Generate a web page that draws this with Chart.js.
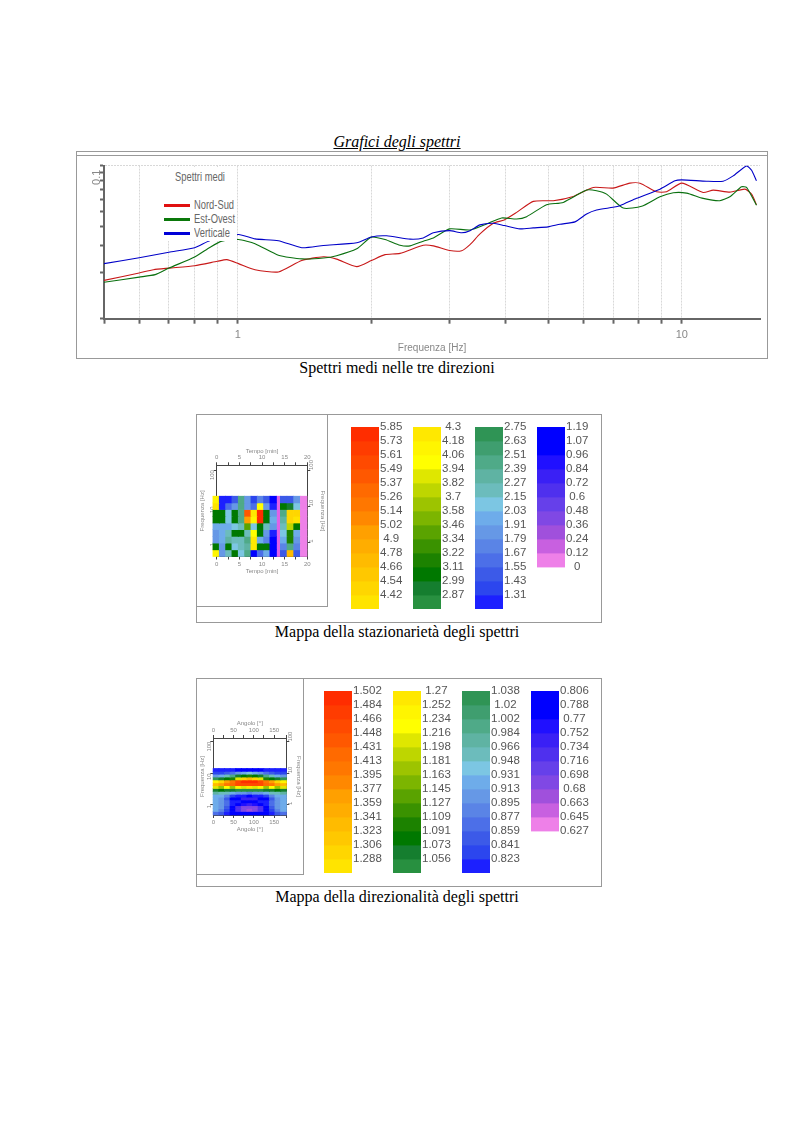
<!DOCTYPE html>
<html>
<head>
<meta charset="utf-8">
<title>Spettri</title>
<script src="https://cdn.jsdelivr.net/npm/chart.js@4/dist/chart.umd.min.js"></script>
<style>
body { margin: 0; background: #fff; }
#page { position: relative; width: 794px; height: 1123px; overflow: hidden; }
#page canvas, .box, .cap, .lg { position: absolute; }
.box { border: 1px solid #999; box-sizing: border-box; }
.cap { left: 0; width: 794px; text-align: center; font: 16px "Liberation Serif", serif; color: #000; }
.lg { font: 12px "Liberation Sans", sans-serif; color: #666; white-space: nowrap; transform: scaleX(0.78); transform-origin: left top; }
.key { position: absolute; left: 164px; width: 26px; height: 3px; }
.small { filter: blur(0.35px); }
</style>
</head>
<body>
<div id="page">
  <div class="cap" style="top:133px;font-style:italic;text-decoration:underline">Grafici degli spettri</div>
  <div class="box" style="left:76px;top:151px;width:692px;height:208px"></div>
  <div class="box" style="left:76px;top:151px;width:692px;height:5px;border-width:0 0 1px 0"></div>
  <canvas id="mainChart" width="692" height="202" style="left:76px;top:156px"></canvas>
  <div style="position:absolute;left:141px;top:167px;width:96px;height:74px;background:#fff"></div>
  <div class="lg" style="left:175px;top:170px">Spettri medi</div>
  <div class="key" style="top:204px;background:#e01010"></div>
  <div class="lg" style="left:194px;top:198px">Nord-Sud</div>
  <div class="key" style="top:218px;background:#0a780a"></div>
  <div class="lg" style="left:194px;top:212px">Est-Ovest</div>
  <div class="key" style="top:232px;background:#0000d8"></div>
  <div class="lg" style="left:194px;top:226px">Verticale</div>
  <div class="cap" style="top:359px">Spettri medi nelle tre direzioni</div>

  <div class="box" style="left:196px;top:414px;width:406px;height:209px"></div>
  <div class="box" style="left:196px;top:414px;width:132px;height:193px"></div>
  <canvas id="timeMap" class="small" width="129" height="190" style="left:197px;top:415px"></canvas>
  <div class="cap" style="top:623px">Mappa della stazionarietà degli spettri</div>

  <div class="box" style="left:196px;top:678px;width:406px;height:209px"></div>
  <div class="box" style="left:196px;top:678px;width:108px;height:197px"></div>
  <canvas id="angleMap" class="small" width="105" height="194" style="left:197px;top:679px"></canvas>
  <div class="cap" style="top:888px">Mappa della direzionalità degli spettri</div>
</div>

<script>
// mean spectra
const nsFreq = [0.5, 0.6, 0.646, 0.7, 0.8, 0.9, 0.945, 1.004, 1.094, 1.235, 1.394, 1.56, 1.67, 1.854, 2.0, 2.147, 2.32, 2.618, 2.758, 3.0, 3.194, 3.335, 3.512, 3.763, 3.983, 4.247, 4.63, 5.135, 5.697, 6.319, 7.0, 7.64, 8.05, 8.77, 9.24, 10, 11.17, 11.77, 12.83, 13.87, 14.36, 14.73];
const nsAmp = [0.0178, 0.0199, 0.0209, 0.0214, 0.0222, 0.0237, 0.0243, 0.0229, 0.0209, 0.0202, 0.024, 0.0254, 0.0245, 0.0219, 0.024, 0.0262, 0.0267, 0.0302, 0.0299, 0.0279, 0.0278, 0.0305, 0.0358, 0.042, 0.0442, 0.0495, 0.0584, 0.059, 0.0629, 0.072, 0.0713, 0.0768, 0.0768, 0.0675, 0.0675, 0.0768, 0.0668, 0.0692, 0.0671, 0.0702, 0.0651, 0.0555];
const eoFreq = [0.5, 0.6, 0.652, 0.7, 0.8, 0.867, 0.921, 1.004, 1.094, 1.235, 1.394, 1.56, 1.67, 1.854, 2.0, 2.147, 2.32, 2.444, 2.618, 2.758, 3.0, 3.335, 3.636, 3.929, 4.247, 4.473, 4.961, 5.409, 6.105, 6.429, 6.771, 7.381, 8.12, 8.93, 9.57, 10.25, 11.17, 12.18, 12.83, 13.63, 13.99, 14.73];
const eoAmp = [0.0173, 0.0187, 0.0194, 0.0214, 0.0253, 0.0293, 0.0321, 0.0329, 0.0309, 0.026, 0.0246, 0.0249, 0.0258, 0.0286, 0.0341, 0.0329, 0.0302, 0.0299, 0.0321, 0.0337, 0.0386, 0.038, 0.0416, 0.0455, 0.0448, 0.0464, 0.0555, 0.0575, 0.0692, 0.0685, 0.0651, 0.0528, 0.0542, 0.0626, 0.0665, 0.0661, 0.0611, 0.059, 0.0626, 0.0727, 0.072, 0.055];
const vertFreq = [0.5, 0.6, 0.7, 0.8, 0.867, 1.004, 1.094, 1.235, 1.394, 1.56, 1.854, 2.0, 2.165, 2.444, 2.618, 2.758, 3.0, 3.194, 3.335, 3.512, 3.763, 3.983, 4.321, 4.63, 5.0, 5.316, 5.746, 6.105, 6.429, 7.0, 7.255, 7.91, 8.93, 9.65, 10, 11.37, 12.39, 13.05, 13.99, 14.36, 14.73];
const vertAmp = [0.0229, 0.025, 0.0272, 0.0291, 0.0324, 0.0355, 0.0332, 0.0323, 0.0291, 0.0301, 0.0313, 0.0342, 0.0348, 0.0331, 0.0337, 0.0364, 0.0376, 0.0364, 0.0376, 0.041, 0.042, 0.0406, 0.0386, 0.0392, 0.0398, 0.0414, 0.0429, 0.0483, 0.0513, 0.0534, 0.0547, 0.0611, 0.0702, 0.0795, 0.0807, 0.0791, 0.0791, 0.0857, 0.0995, 0.0932, 0.0795];
const freqTicks = [0.5, 0.6, 0.7, 0.8, 0.9, 1, 2, 3, 4, 5, 6, 7, 8, 9, 10];
const ampTicks = [0.01, 0.02, 0.03, 0.04, 0.05, 0.06, 0.07, 0.08, 0.09, 0.1];

// colour scale labels
const statCol1 = [5.85, 5.73, 5.61, 5.49, 5.37, 5.26, 5.14, 5.02, 4.9, 4.78, 4.66, 4.54, 4.42];
const statCol2 = [4.3, 4.18, 4.06, 3.94, 3.82, 3.7, 3.58, 3.46, 3.34, 3.22, 3.11, 2.99, 2.87];
const statCol3 = [2.75, 2.63, 2.51, 2.39, 2.27, 2.15, 2.03, 1.91, 1.79, 1.67, 1.55, 1.43, 1.31];
const statCol4 = [1.19, 1.07, 0.96, 0.84, 0.72, 0.6, 0.48, 0.36, 0.24, 0.12, 0];
const dirCol1 = [1.502, 1.484, 1.466, 1.448, 1.431, 1.413, 1.395, 1.377, 1.359, 1.341, 1.323, 1.306, 1.288];
const dirCol2 = [1.27, 1.252, 1.234, 1.216, 1.198, 1.181, 1.163, 1.145, 1.127, 1.109, 1.091, 1.073, 1.056];
const dirCol3 = [1.038, 1.02, 1.002, 0.984, 0.966, 0.948, 0.931, 0.913, 0.895, 0.877, 0.859, 0.841, 0.823];
const dirCol4 = [0.806, 0.788, 0.77, 0.752, 0.734, 0.716, 0.698, 0.68, 0.663, 0.645, 0.627];

const colours1 = ['#ff2d00', '#ff3c00', '#ff4a00', '#ff5800', '#ff6a00', '#ff7700', '#ff8800', '#ffa000', '#ffad00', '#ffbb00', '#ffc800', '#ffd600', '#ffe400'];
const colours2 = ['#ffe800', '#fff500', '#ffff00', '#dfe700', '#bed600', '#9dc400', '#7cb500', '#5aa300', '#3a9200', '#1c8200', '#007800', '#157e2f', '#289040'];
const colours3 = ['#2f9455', '#3f9e6f', '#4faa88', '#5fb3a3', '#6cbcbc', '#7cc6e3', '#6eacea', '#6698e6', '#5a84e6', '#4c6fe8', '#3c5ae8', '#2c46ee', '#1c20ff'];
const colours4 = ['#0000ff', '#0000ff', '#2010ff', '#3a20f5', '#4f30ee', '#6640ea', '#8048e4', '#a050dc', '#c860e0', '#ee80e8'];

// stationarity map: time columns, frequency row edges, values top row first
const timeCols = [-0.11, 1.29, 2.69, 4.08, 5.48, 6.88, 8.28, 9.67, 11.07, 12.47, 14.78, 16.25, 17.72, 19.2];
const timeGapCol = 13.6;
const timeRowEdges = [19.1, 12.5, 8.2, 5.35, 3.5, 2.3, 1.5, 0.98, 0.64, 0.42];
const timeRows = [
    [4.1, 1.2, 1.2, 1.5, 2.4, 1.8, 1.4, 1.7, 1.5, 1.1, 1.5, 1.5, 1.9, 0],
    [4.3, 1.3, 1.6, 1.9, 2.5, 1.9, 1.6, 4.0, 1.9, 1.3, 3.0, 2.9, 2.1, 0],
    [3.1, 3.1, 2.1, 3.1, 2.5, 5.4, 4.2, 5.8, 3.1, 1.9, 2.4, 4.5, 4.5, 0],
    [3.1, 3.0, 2.1, 3.1, 2.4, 4.9, 4.1, 5.8, 3.1, 2.0, 2.3, 4.5, 4.4, 0],
    [2.0, 2.0, 2.0, 2.1, 2.2, 3.4, 2.1, 3.0, 2.2, 1.8, 2.2, 3.7, 3.1, 0],
    [1.9, 2.0, 2.2, 3.0, 3.0, 2.2, 4.0, 3.1, 1.8, 1.2, 2.1, 3.2, 2.0, 0],
    [1.8, 2.0, 2.3, 2.2, 2.2, 2.4, 4.2, 2.0, 1.7, 1.1, 2.0, 3.2, 1.9, 0],
    [3.1, 1.9, 3.0, 2.1, 2.2, 2.3, 4.2, 3.1, 3.1, 1.0, 1.7, 2.4, 1.7, 0],
    [4.1, 1.8, 2.2, 3.0, 2.1, 2.4, 1.0, 1.6, 2.0, 1.0, 1.5, 4.7, 1.5, 0]
];

// directionality map
const angleCols = [6.9, 20.8, 34.6, 48.5, 62.3, 76.2, 90, 103.8, 117.7, 131.5, 145.4, 159.2, 173.1];
const angleRowEdges = [14.2, 11.5, 9.37, 7.61, 6.18, 5.02, 4.07, 3.31, 2.69, 2.18, 1.77, 1.44, 1.17, 0.949, 0.771, 0.626, 0.483];
const angleRows = [
    [0.82, 0.82, 0.81, 0.81, 0.80, 0.80, 0.80, 0.80, 0.80, 0.81, 0.81, 0.82, 0.82],
    [0.84, 0.84, 0.85, 0.87, 0.90, 0.93, 0.94, 0.93, 0.90, 0.87, 0.85, 0.84, 0.84],
    [0.90, 0.93, 0.96, 1.00, 1.06, 1.09, 1.10, 1.09, 1.06, 1.00, 0.96, 0.93, 0.90],
    [1.02, 1.06, 1.09, 1.10, 1.20, 1.30, 1.34, 1.30, 1.20, 1.10, 1.09, 1.06, 1.02],
    [1.25, 1.30, 1.36, 1.40, 1.46, 1.49, 1.50, 1.49, 1.46, 1.40, 1.36, 1.30, 1.25],
    [1.34, 1.36, 1.40, 1.43, 1.45, 1.46, 1.46, 1.46, 1.45, 1.43, 1.40, 1.36, 1.34],
    [1.20, 1.18, 1.22, 1.18, 1.24, 1.20, 1.26, 1.20, 1.24, 1.18, 1.22, 1.18, 1.20],
    [1.06, 1.08, 1.07, 1.06, 1.05, 1.05, 1.05, 1.05, 1.05, 1.06, 1.07, 1.08, 1.06],
    [0.97, 0.96, 0.95, 0.93, 0.90, 0.90, 0.89, 0.90, 0.90, 0.93, 0.95, 0.96, 0.97],
    [0.93, 0.92, 0.88, 0.84, 0.82, 0.81, 0.80, 0.81, 0.82, 0.84, 0.88, 0.92, 0.93],
    [0.92, 0.90, 0.85, 0.80, 0.77, 0.75, 0.74, 0.75, 0.77, 0.80, 0.85, 0.90, 0.92],
    [0.93, 0.91, 0.86, 0.82, 0.81, 0.80, 0.80, 0.80, 0.81, 0.82, 0.86, 0.91, 0.93],
    [0.93, 0.91, 0.86, 0.81, 0.78, 0.76, 0.75, 0.76, 0.78, 0.81, 0.86, 0.91, 0.93],
    [0.93, 0.90, 0.85, 0.78, 0.72, 0.69, 0.68, 0.69, 0.72, 0.78, 0.85, 0.90, 0.93],
    [0.92, 0.89, 0.84, 0.78, 0.72, 0.68, 0.67, 0.68, 0.72, 0.78, 0.84, 0.89, 0.92],
    [0.86, 0.85, 0.82, 0.80, 0.78, 0.78, 0.78, 0.78, 0.78, 0.80, 0.82, 0.85, 0.86]
];

const axisGrey = '#666';
const textGrey = '#888';
const sans = '"Liberation Sans", sans-serif';

function xyPoints(xs, ys) {
    return xs.map((x, i) => ({ x: x, y: ys[i] }));
}

function spectrumSet(label, xs, ys, colour) {
    return {
        label: label,
        data: xyPoints(xs, ys),
        borderColor: colour,
        borderWidth: 1.1,
        pointRadius: 0,
        tension: 0.2
    };
}

function renderSpectra() {
    const ctx = document.getElementById('mainChart').getContext('2d');
    new Chart(ctx, {
        type: 'line',
        data: {
            datasets: [
                spectrumSet('Verticale', vertFreq, vertAmp, '#0000c8'),
                spectrumSet('Est-Ovest', eoFreq, eoAmp, '#0a700f'),
                spectrumSet('Nord-Sud', nsFreq, nsAmp, '#c81818')
            ]
        },
        options: {
            responsive: false,
            animation: false,
            layout: { padding: { top: 8.7, right: 8 } },
            plugins: { legend: { display: false }, tooltip: { enabled: false } },
            scales: {
                x: {
                    type: 'logarithmic',
                    min: 0.5,
                    max: 15,
                    afterFit: scale => { scale.height = 39.3; },
                    afterBuildTicks: scale => { scale.ticks = freqTicks.map(v => ({ value: v })); },
                    border: { color: axisGrey, width: 2, dash: [2, 1] },
                    grid: { color: '#d8d8d8', tickColor: axisGrey, tickWidth: 2, tickLength: 5, tickBorderDash: [] },
                    ticks: {
                        autoSkip: false,
                        maxRotation: 0,
                        color: textGrey,
                        font: { family: sans, size: 11 },
                        padding: 5,
                        callback: v => (v === 1 || v === 10 ? String(v) : '')
                    },
                    title: { display: true, text: 'Frequenza [Hz]', color: textGrey, font: { family: sans, size: 10 }, padding: { top: 0, bottom: 4 } }
                },
                y: {
                    type: 'logarithmic',
                    min: 0.01,
                    max: 0.1,
                    afterFit: scale => { scale.width = 28; },
                    afterBuildTicks: scale => { scale.ticks = ampTicks.map(v => ({ value: v })); },
                    border: { color: axisGrey, width: 2, dash: [2, 1] },
                    grid: {
                        color: c => (c.tick && c.tick.value === 0.1 ? '#d8d8d8' : 'rgba(0,0,0,0)'),
                        tickColor: axisGrey,
                        tickWidth: 2,
                        tickLength: 4,
                        tickBorderDash: []
                    },
                    ticks: {
                        autoSkip: false,
                        minRotation: 90,
                        maxRotation: 90,
                        labelOffset: 4,
                        padding: 3,
                        color: textGrey,
                        font: { family: sans, size: 11 },
                        callback: v => (v === 0.1 ? '0.1' : '')
                    }
                }
            }
        }
    });
}

// colour of a value, from the scale columns of one map
function colourOf(value, labelCols) {
    const edges = labelCols.flat();
    const colours = colours1.concat(colours2, colours3, colours4);
    for (let i = 0; i < colours.length; i++) {
        if (value >= edges[i + 1]) return colours[i];
    }
    return colours[colours.length - 1];
}

function renderScaleBar(labels, colours, left, top) {
    const canvas = document.createElement('canvas');
    canvas.width = 60;
    canvas.height = 200;
    canvas.style.left = left + 'px';
    canvas.style.top = (top - 10) + 'px';
    document.getElementById('page').appendChild(canvas);
    new Chart(canvas.getContext('2d'), {
        type: 'bar',
        data: {
            labels: [''],
            datasets: colours.map((c, i) => ({ data: [[i, i + 1]], backgroundColor: c }))
        },
        options: {
            responsive: false,
            animation: false,
            grouped: false,
            barPercentage: 1,
            categoryPercentage: 1,
            layout: { padding: { top: 10, bottom: 7 } },
            plugins: { legend: { display: false }, tooltip: { enabled: false } },
            scales: {
                x: { display: false },
                y: {
                    position: 'right',
                    reverse: true,
                    min: 0,
                    max: 13,
                    afterFit: scale => { scale.width = 32; },
                    border: { display: false },
                    grid: { display: false, drawTicks: false },
                    ticks: {
                        stepSize: 1,
                        autoSkip: false,
                        padding: 1,
                        crossAlign: 'center',
                        color: '#555',
                        font: { family: sans, size: 11.5 },
                        callback: v => (labels[v] === undefined ? '' : String(labels[v]))
                    }
                }
            }
        }
    });
}

function renderScales(cols, lefts, top) {
    const colours = [colours1, colours2, colours3, colours4];
    cols.forEach((labels, i) => renderScaleBar(labels, colours[i], lefts[i], top));
}

function mapSets(rows, cols, edges, labelCols, thickness) {
    return rows.map((row, r) => ({
        data: row.map((v, c) => ({ x: cols[c], y: [edges[r + 1], edges[r]] })),
        backgroundColor: row.map(v => colourOf(v, labelCols)),
        barThickness: thickness,
        clip: false
    }));
}

function renderMap(id, sets, opt) {
    const smallFont = { family: sans, size: 6 };
    const smallGrid = { drawOnChartArea: false, tickLength: 3, tickColor: '#444', tickWidth: 1 };
    const freqLabel = v => (v === 1 || v === 10 || v === 100 ? String(v) : '');
    const freqAxis = (position, size) => ({
        type: 'logarithmic',
        position: position,
        min: opt.fMin,
        max: opt.fMax,
        afterFit: scale => { scale.width = size; },
        afterBuildTicks: scale => { scale.ticks = [1, 10, 100].map(v => ({ value: v })); },
        border: { color: '#444', width: 1 },
        grid: smallGrid,
        ticks: { minRotation: 90, maxRotation: 90, padding: 1, autoSkip: false, color: textGrey, font: smallFont, callback: freqLabel },
        title: { display: true, text: 'Frequenza [Hz]', color: textGrey, font: smallFont, padding: 0 }
    });
    const xAxis = (position, size) => ({
        type: 'linear',
        position: position,
        min: opt.xMin,
        max: opt.xMax,
        offset: false,
        afterFit: scale => { scale.height = size; },
        border: { color: '#444', width: 1 },
        grid: Object.assign({ offset: false }, smallGrid),
        ticks: { stepSize: opt.xStep, maxRotation: 0, padding: 1, autoSkip: false, color: textGrey, font: smallFont, callback: v => (v % opt.xLabelStep === 0 ? String(v) : '') },
        title: { display: true, text: opt.xTitle, color: textGrey, font: smallFont, padding: 0 }
    });
    new Chart(document.getElementById(id).getContext('2d'), {
        type: 'bar',
        data: { datasets: sets },
        options: {
            responsive: false,
            animation: false,
            grouped: false,
            layout: { padding: opt.padding },
            plugins: { legend: { display: false }, tooltip: { enabled: false } },
            scales: {
                x: xAxis('bottom', opt.bottom),
                xTop: xAxis('top', opt.top),
                y: freqAxis('left', opt.left),
                yRight: freqAxis('right', opt.right)
            }
        }
    });
}

const statLabels = [statCol1, statCol2, statCol3, statCol4];
const dirLabels = [dirCol1, dirCol2, dirCol3, dirCol4];

renderSpectra();
renderScales(statLabels, [351, 413, 475, 537], 427);
renderScales(dirLabels, [324, 393, 462, 531], 691);

const timeSets = mapSets(timeRows, timeCols, timeRowEdges, statLabels, 6.6);
timeSets.push({
    data: [{ x: timeGapCol, y: [0.42, 19.1] }],
    backgroundColor: '#e060e8',
    barThickness: 4,
    clip: false
});
renderMap('timeMap', timeSets, {
    fMin: 0.42, fMax: 135, xMin: 0, xMax: 20, xStep: 2.5, xLabelStep: 5, xTitle: 'Tempo [min]',
    padding: { top: 32.3, bottom: 30, left: 2 }, top: 18, bottom: 18.5, left: 17.7, right: 18.7
});
renderMap('angleMap', mapSets(angleRows, angleCols, angleRowEdges, dirLabels, 6), {
    fMin: 0.483, fMax: 130, xMin: 0, xMax: 180, xStep: 25, xLabelStep: 50, xTitle: 'Angolo [°]',
    padding: { top: 41, bottom: 40, left: 2 }, top: 18, bottom: 18, left: 14.3, right: 15.7
});
</script>
</body>
</html>
